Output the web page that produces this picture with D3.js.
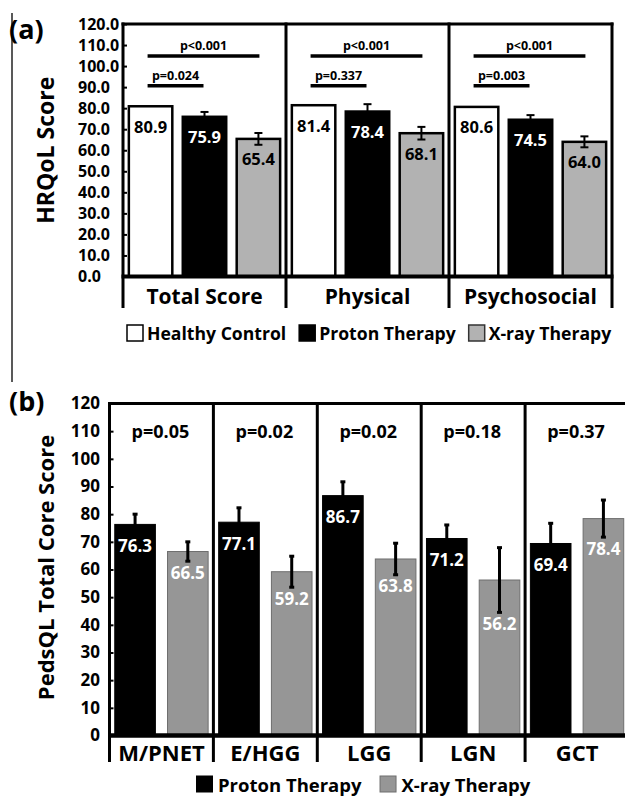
<!DOCTYPE html>
<html>
<head>
<meta charset="utf-8">
<script src="https://cdn.jsdelivr.net/npm/d3@7"></script>
<style>
  body { margin: 0; background: #fff; }
  text { font-family: "Open Sans", "Noto Sans", sans-serif; font-weight: 700; }
</style>
</head>
<body>
<script>
// ---------- Panel (a) data ----------
const groupsA = ["Total Score", "Physical", "Psychosocial"];
const seriesA = ["Healthy Control", "Proton Therapy", "X-ray Therapy"];
const healthyA = [80.9, 81.4, 80.6];
const protonA = [75.9, 78.4, 74.5];
const xrayA = [65.4, 68.1, 64.0];
const protonErrA = [2.3, 3.5, 2.2];
const xrayErrA = [2.8, 3.0, 2.6];
const pLongA = ["p<0.001", "p<0.001", "p<0.001"];
const pShortA = ["p=0.024", "p=0.337", "p=0.003"];
const bracketLongLevelA = 104.8;
const bracketShortLevelA = 90.7;
const ticksA = [0, 10, 20, 30, 40, 50, 60, 70, 80, 90, 100, 110, 120];

// ---------- Panel (b) data ----------
const groupsB = ["M/PNET", "E/HGG", "LGG", "LGN", "GCT"];
const seriesB = ["Proton Therapy", "X-ray Therapy"];
const protonB = [76.3, 77.1, 86.7, 71.2, 69.4];
const xrayB = [66.5, 59.2, 63.8, 56.2, 78.4];
const protonErrB = [3.7, 5.2, 5.0, 4.9, 7.3];
const xrayErrB = [3.5, 5.6, 5.7, 11.7, 6.7];
const pB = ["p=0.05", "p=0.02", "p=0.02", "p=0.18", "p=0.37"];
const pLevelB = 110;
const ticksB = [0, 10, 20, 30, 40, 50, 60, 70, 80, 90, 100, 110, 120];

const grayA = "#b2b2b2";
const grayB = "#969696";

const svg = d3.select("body").append("svg").attr("width", 625).attr("height", 796);

// left border artifact
svg.append("line").attr("x1", 12).attr("x2", 12).attr("y1", 13).attr("y2", 382)
  .attr("stroke", "#222").attr("stroke-width", 1.5);

// ================= PANEL A =================
const xA = d3.scaleBand().domain(groupsA).range([123, 612]).padding(0);
const xsA = d3.scaleBand().domain(seriesA).range([0, xA.bandwidth()]).paddingInner(0.157).paddingOuter(0.09);
const yA = d3.scaleLinear().domain([0, 120]).range([276.5, 24]);
const gA = svg.append("g");

gA.append("text").text("(a)").attr("x", 9).attr("y", 28).attr("dominant-baseline", "central")
  .attr("font-size", 27);

// y title
gA.append("text").text("HRQoL Score")
  .attr("transform", `translate(45,${(yA(0) + yA(120)) / 2}) rotate(-90)`)
  .attr("text-anchor", "middle").attr("dominant-baseline", "central").attr("font-size", 23);

const rowsA = groupsA.map((g, i) => ({
  g, vals: [
    { s: seriesA[0], v: healthyA[i], e: null },
    { s: seriesA[1], v: protonA[i], e: protonErrA[i] },
    { s: seriesA[2], v: xrayA[i], e: xrayErrA[i] }
  ]
}));
const fillA = d3.scaleOrdinal().domain(seriesA).range(["#fff", "#000", grayA]);
const labelColA = d3.scaleOrdinal().domain(seriesA).range(["#000", "#fff", "#000"]);

const grpA = gA.selectAll("g.grp").data(rowsA).join("g").attr("class", "grp")
  .attr("transform", d => `translate(${xA(d.g)},0)`);

grpA.selectAll("rect").data(d => d.vals).join("rect")
  .attr("x", d => xsA(d.s) + 1).attr("width", xsA.bandwidth() - 2)
  .attr("y", d => yA(d.v)).attr("height", d => yA(0) - yA(d.v))
  .attr("fill", d => fillA(d.s)).attr("stroke", "#000").attr("stroke-width", 2.5);

// error bars
grpA.selectAll("g.err").data(d => d.vals.filter(v => v.e != null)).join("g").attr("class", "err")
  .each(function (d) {
    const cx = xsA(d.s) + xsA.bandwidth() / 2;
    const g = d3.select(this);
    g.append("line").attr("x1", cx).attr("x2", cx).attr("y1", yA(d.v + d.e)).attr("y2", yA(d.v - d.e))
      .attr("stroke", "#000").attr("stroke-width", 2);
    [d.v + d.e, d.v - d.e].forEach(val => g.append("line").attr("x1", cx - 4).attr("x2", cx + 4)
      .attr("y1", yA(val)).attr("y2", yA(val)).attr("stroke", "#000").attr("stroke-width", 2));
  });

// value labels
grpA.selectAll("text.val").data(d => d.vals).join("text").attr("class", "val")
  .text(d => d.v.toFixed(1))
  .attr("x", d => xsA(d.s) + xsA.bandwidth() / 2).attr("y", d => yA(d.v) + 20)
  .attr("text-anchor", "middle").attr("dominant-baseline", "central")
  .attr("font-size", 16.5).attr("fill", d => labelColA(d.s));

// significance brackets
grpA.each(function (d, i) {
  const g = d3.select(this);
  const c1 = xsA(seriesA[0]) + xsA.bandwidth() / 2;
  const c2 = xsA(seriesA[1]) + xsA.bandwidth() / 2;
  const c3 = xsA(seriesA[2]) + xsA.bandwidth() / 2;
  g.append("line").attr("x1", c1 - 3).attr("x2", c3 + 1)
    .attr("y1", yA(bracketLongLevelA)).attr("y2", yA(bracketLongLevelA))
    .attr("stroke", "#000").attr("stroke-width", 3.5);
  g.append("text").text(pLongA[i]).attr("x", (c1 - 3 + c3 + 1) / 2).attr("y", yA(bracketLongLevelA) - 10)
    .attr("text-anchor", "middle").attr("dominant-baseline", "central").attr("font-size", 12.5);
  g.append("line").attr("x1", c1 - 3).attr("x2", c2 - 1)
    .attr("y1", yA(bracketShortLevelA)).attr("y2", yA(bracketShortLevelA))
    .attr("stroke", "#000").attr("stroke-width", 3.5);
  g.append("text").text(pShortA[i]).attr("x", (c1 - 3 + c2 - 1) / 2).attr("y", yA(bracketShortLevelA) - 10.5)
    .attr("text-anchor", "middle").attr("dominant-baseline", "central").attr("font-size", 12.5);
});

// frame
const edgesA = groupsA.map(g => xA(g)).concat([xA.range()[1]]);
gA.append("line").attr("x1", edgesA[0] - 1.5).attr("x2", edgesA[edgesA.length - 1] + 1.5)
  .attr("y1", yA(120)).attr("y2", yA(120)).attr("stroke", "#000").attr("stroke-width", 3);
gA.selectAll("line.div").data(edgesA).join("line").attr("class", "div")
  .attr("x1", d => d).attr("x2", d => d).attr("y1", yA(120) - 1.5).attr("y2", 308)
  .attr("stroke", "#000").attr("stroke-width", 3);
gA.append("line").attr("x1", edgesA[0] - 1.5).attr("x2", edgesA[edgesA.length - 1] + 1.5)
  .attr("y1", yA(0)).attr("y2", yA(0)).attr("stroke", "#000").attr("stroke-width", 4);

// y axis ticks & labels
const axA = gA.append("g").attr("transform", `translate(${edgesA[0]},0)`)
  .call(d3.axisLeft(yA).tickValues(ticksA).tickSize(-4).tickFormat(d3.format(".1f")));
axA.select(".domain").remove();
axA.selectAll(".tick line").attr("stroke-width", 2);
axA.selectAll(".tick text").attr("x", 78 - edgesA[0]).attr("text-anchor", "start")
  .attr("font-size", 16).attr("font-family", null).attr("fill", "#000");

// x axis labels
const axXA = gA.append("g").attr("transform", `translate(0,${yA(0)})`)
  .call(d3.axisBottom(xA).tickSize(0));
axXA.select(".domain").remove();
axXA.selectAll(".tick text").attr("y", 20).attr("dy", "0.35em")
  .attr("font-size", 21).attr("font-family", null).attr("fill", "#000");

// legend A
{
  const lg = gA.append("g").attr("transform", "translate(126,333)");
  let x = 0;
  seriesA.forEach((s, i) => {
    lg.append("rect").attr("x", x + 1).attr("y", -8).attr("width", 16).attr("height", 16)
      .attr("fill", fillA(s)).attr("stroke", i === 2 ? "#333" : "#000").attr("stroke-width", 1.5);
    const t = lg.append("text").text(s).attr("x", x + 21).attr("y", 0)
      .attr("dominant-baseline", "central").attr("font-size", 17.6);
    x += 21 + t.node().getComputedTextLength() + 12;
  });
}

// ================= PANEL B =================
const xB = d3.scaleBand().domain(groupsB).range([109.5, 629]).padding(0);
const xsB = d3.scaleBand().domain(seriesB).range([0, xB.bandwidth()]).paddingInner(0.23).paddingOuter(0.1);
const yB = d3.scaleLinear().domain([0, 120]).range([735.5, 403.5]);
const gB = svg.append("g");

gB.append("text").text("(b)").attr("x", 9).attr("y", 400).attr("dominant-baseline", "central")
  .attr("font-size", 27);

gB.append("text").text("PedsQL Total Core Score")
  .attr("transform", `translate(45,${(yB(0) + yB(120)) / 2 - 2}) rotate(-90)`)
  .attr("text-anchor", "middle").attr("dominant-baseline", "central").attr("font-size", 22);

const rowsB = groupsB.map((g, i) => ({
  g, p: pB[i], vals: [
    { s: seriesB[0], v: protonB[i], e: protonErrB[i] },
    { s: seriesB[1], v: xrayB[i], e: xrayErrB[i] }
  ]
}));
const fillB = d3.scaleOrdinal().domain(seriesB).range(["#000", grayB]);

const grpB = gB.selectAll("g.grp").data(rowsB).join("g").attr("class", "grp")
  .attr("transform", d => `translate(${xB(d.g)},0)`);

grpB.selectAll("rect").data(d => d.vals).join("rect")
  .attr("x", d => xsB(d.s)).attr("width", xsB.bandwidth())
  .attr("y", d => yB(d.v)).attr("height", d => yB(0) - yB(d.v))
  .attr("fill", d => fillB(d.s)).attr("stroke", d => d.s === seriesB[0] ? "#000" : "#6e6e6e")
  .attr("stroke-width", 1);

grpB.selectAll("g.err").data(d => d.vals).join("g").attr("class", "err")
  .each(function (d) {
    const cx = xsB(d.s) + xsB.bandwidth() / 2;
    const g = d3.select(this);
    g.append("line").attr("x1", cx).attr("x2", cx).attr("y1", yB(d.v + d.e)).attr("y2", yB(d.v - d.e))
      .attr("stroke", "#000").attr("stroke-width", 3);
    [d.v + d.e, d.v - d.e].forEach(val => g.append("line").attr("x1", cx - 2.5).attr("x2", cx + 2.5)
      .attr("y1", yB(val)).attr("y2", yB(val)).attr("stroke", "#000").attr("stroke-width", 3));
  });

grpB.selectAll("text.val").data(d => d.vals).join("text").attr("class", "val")
  .text(d => d.v.toFixed(1))
  .attr("x", d => xsB(d.s) + xsB.bandwidth() / 2)
  .attr("y", d => d.s === seriesB[0] ? yB(d.v) + 21 : Math.max(yB(d.v) + 20, yB(d.v - d.e) + 11))
  .attr("text-anchor", "middle").attr("dominant-baseline", "central")
  .attr("font-size", 17).attr("fill", "#fff");

grpB.append("text").text(d => d.p).attr("x", xB.bandwidth() / 2 - 1).attr("y", yB(pLevelB))
  .attr("text-anchor", "middle").attr("dominant-baseline", "central").attr("font-size", 18);

const edgesB = groupsB.map(g => xB(g)).concat([xB.range()[1]]);
gB.append("line").attr("x1", edgesB[0] - 1.5).attr("x2", edgesB[edgesB.length - 1] + 1.5)
  .attr("y1", yB(120)).attr("y2", yB(120)).attr("stroke", "#000").attr("stroke-width", 3);
gB.selectAll("line.div").data(edgesB).join("line").attr("class", "div")
  .attr("x1", d => d).attr("x2", d => d).attr("y1", yB(120) - 1.5).attr("y2", 762)
  .attr("stroke", "#000").attr("stroke-width", 3);
gB.append("line").attr("x1", edgesB[0] - 1.5).attr("x2", edgesB[edgesB.length - 1] + 1.5)
  .attr("y1", yB(0)).attr("y2", yB(0)).attr("stroke", "#000").attr("stroke-width", 4.5);

const axB = gB.append("g").attr("transform", `translate(${edgesB[0]},0)`)
  .call(d3.axisLeft(yB).tickValues(ticksB).tickSize(-4).tickFormat(d3.format("d")));
axB.select(".domain").remove();
axB.selectAll(".tick line").attr("stroke-width", 2);
axB.selectAll(".tick text").attr("x", 100 - edgesB[0]).attr("text-anchor", "end")
  .attr("font-size", 17).attr("font-family", null).attr("fill", "#000");

const axXB = gB.append("g").attr("transform", `translate(0,${yB(0)})`)
  .call(d3.axisBottom(xB).tickSize(0));
axXB.select(".domain").remove();
axXB.selectAll(".tick text").attr("y", 18).attr("dy", "0.35em")
  .attr("font-size", 22).attr("font-family", null).attr("fill", "#000");

{
  const lg = gB.append("g").attr("transform", "translate(196,784)");
  let x = 0;
  seriesB.forEach((s, i) => {
    lg.append("rect").attr("x", x + 0.5).attr("y", -8).attr("width", 16).attr("height", 16)
      .attr("fill", fillB(s)).attr("stroke", i === 0 ? "#000" : "#6e6e6e").attr("stroke-width", 1);
    const t = lg.append("text").text(s).attr("x", x + 22).attr("y", 0)
      .attr("dominant-baseline", "central").attr("font-size", 18.5);
    x += 22 + t.node().getComputedTextLength() + 18;
  });
}
</script>
</body>
</html>
